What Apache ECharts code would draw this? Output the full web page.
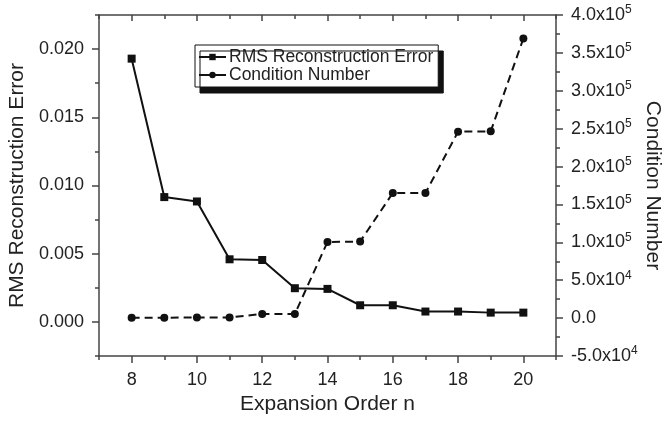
<!DOCTYPE html>
<html>
<head>
<meta charset="utf-8">
<script src="https://cdn.jsdelivr.net/npm/echarts@6/dist/echarts.min.js"></script>
<style>
  html, body { margin: 0; padding: 0; background: #fff; }
  #chart { width: 663px; height: 421px; }
</style>
</head>
<body>
<div id="chart"></div>
<script>
// expansion order n
const orders = [8, 9, 10, 11, 12, 13, 14, 15, 16, 17, 18, 19, 20]
// RMS reconstruction error (left axis)
const rmsError = [0.0193, 0.00915, 0.00883, 0.00459, 0.00454, 0.00247, 0.00242,
  0.00122, 0.00122, 0.00076, 0.00076, 0.00068, 0.00068]
// condition number (right axis)
const condNumber = [500, 600, 700, 800, 5500, 5500, 100500, 101000,
  165000, 165000, 246000, 246500, 369000]
// tick values
const xMajor = [8, 10, 12, 14, 16, 18, 20]
const xMinor = [7, 9, 11, 13, 15, 17, 19, 21]
const leftMajor = [0, 0.005, 0.01, 0.015, 0.02]
const leftMinor = [-0.0025, 0.0025, 0.0075, 0.0125, 0.0175, 0.0225]

const axisColor = "#444"
const textColor = "#222"
const font = "Arial, 'Liberation Sans', sans-serif"

const chart = echarts.init(document.getElementById("chart"))

// superscript labels for the right axis, e.g. 4.0x10^5
const sciLabel = (v) => {
  if (Math.abs(v) < 1e-9) return "{m|0.0}"
  const e = Math.floor(Math.log10(Math.abs(v)))
  const m = (v / Math.pow(10, e)).toFixed(1)
  return "{m|" + m + "x10}{s|" + e + "}"
}

const tickLine = { color: axisColor, width: 1.5 }
const shownLine = { show: true, onZero: false, lineStyle: tickLine }
const hiddenLine = { show: false, onZero: false }

const baseX = {
  type: "value",
  min: 7,
  max: 21,
  splitLine: { show: false },
  axisLine: shownLine,
}
const baseLeft = {
  type: "value",
  min: -0.0025,
  max: 0.0225,
  position: "left",
  splitLine: { show: false },
}

const option = {
  animation: false,
  grid: { left: 99, right: 107, top: 15, bottom: 65, outerBoundsMode: "none", containLabel: false },
  legend: {
    left: 195,
    top: 45,
    orient: "vertical",
    itemWidth: 27,
    itemHeight: 8,
    itemGap: 0,
    padding: [3, 5, 3, 3],
    backgroundColor: "#fff",
    borderColor: "#111",
    borderWidth: 1,
    borderRadius: 0,
    shadowColor: "#111",
    shadowBlur: 0,
    shadowOffsetX: 5,
    shadowOffsetY: 6,
    lineStyle: { type: "solid", width: 2 },
    textStyle: { fontSize: 17.5, color: textColor, fontFamily: font, lineHeight: 18, padding: [0, 0, 0, -2] },
    data: ["RMS Reconstruction Error", "Condition Number"],
  },
  xAxis: [
    {
      ...baseX,
      position: "bottom",
      name: "Expansion Order n",
      nameLocation: "middle",
      nameGap: 30,
      nameTextStyle: { fontSize: 21, color: textColor, fontFamily: font },
      axisTick: { show: true, customValues: xMajor, length: 7, lineStyle: tickLine },
      axisLabel: { customValues: xMajor, margin: 15, fontSize: 18, color: textColor, fontFamily: font },
    },
    {
      ...baseX,
      position: "bottom",
      axisLine: hiddenLine,
      axisTick: { show: true, customValues: xMinor, length: 4, lineStyle: tickLine },
      axisLabel: { show: false },
    },
    {
      ...baseX,
      position: "top",
      axisTick: { show: true, inside: true, customValues: xMajor, length: 6, lineStyle: tickLine },
      axisLabel: { show: false },
    },
    {
      ...baseX,
      position: "top",
      axisLine: hiddenLine,
      axisTick: { show: true, inside: true, customValues: xMinor, length: 4, lineStyle: tickLine },
      axisLabel: { show: false },
    },
  ],
  yAxis: [
    {
      ...baseLeft,
      name: "RMS Reconstruction Error",
      nameLocation: "middle",
      nameGap: 68,
      nameTextStyle: { fontSize: 21, color: textColor, fontFamily: font },
      axisLine: shownLine,
      axisTick: { show: true, customValues: leftMajor, length: 7, lineStyle: tickLine },
      axisLabel: {
        customValues: leftMajor,
        margin: 15,
        fontSize: 18,
        color: textColor,
        fontFamily: font,
        formatter: (v) => v.toFixed(3),
      },
    },
    {
      type: "value",
      position: "right",
      min: -50000,
      max: 400000,
      interval: 50000,
      name: "Condition Number",
      nameLocation: "middle",
      nameGap: 86,
      nameRotate: -90,
      nameMoveOverlap: false,
      nameTextStyle: { fontSize: 21, color: textColor, fontFamily: font },
      splitLine: { show: false },
      axisLine: shownLine,
      axisTick: { show: true, length: 7, lineStyle: tickLine },
      minorTick: { show: true, splitNumber: 2, length: 4, lineStyle: tickLine },
      axisLabel: {
        margin: 15,
        color: textColor,
        fontFamily: font,
        formatter: sciLabel,
        rich: {
          m: { fontSize: 18, lineHeight: 22, color: textColor, fontFamily: font },
          s: { fontSize: 12, lineHeight: 12, verticalAlign: "top", color: textColor, fontFamily: font },
        },
      },
    },
    {
      ...baseLeft,
      axisLine: hiddenLine,
      axisTick: { show: true, customValues: leftMinor, length: 4, lineStyle: tickLine },
      axisLabel: { show: false },
    },
  ],
  series: [
    {
      name: "RMS Reconstruction Error",
      type: "line",
      xAxisIndex: 0,
      yAxisIndex: 0,
      data: orders.map((n, i) => [n, rmsError[i]]),
      symbol: "rect",
      symbolSize: 8,
      itemStyle: { color: "#111" },
      lineStyle: { color: "#111", width: 2 },
    },
    {
      name: "Condition Number",
      type: "line",
      xAxisIndex: 0,
      yAxisIndex: 1,
      data: orders.map((n, i) => [n, condNumber[i]]),
      symbol: "circle",
      symbolSize: 8,
      itemStyle: { color: "#111" },
      lineStyle: { color: "#111", width: 2, type: [8, 5] },
    },
  ],
}

chart.setOption(option)
</script>
</body>
</html>
